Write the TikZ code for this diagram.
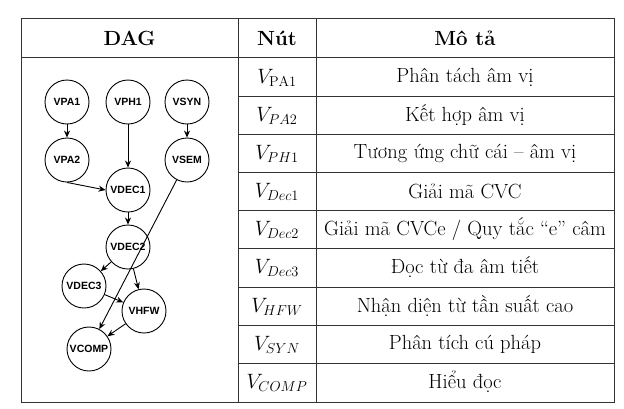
\documentclass[tikz,border=0pt]{standalone}
\usepackage{fontspec}
\newfontfamily\dagfont{Liberation Sans}
\usetikzlibrary{arrows.meta}
\tikzset{
  dn/.style={circle,draw,line width=0.9pt,minimum size=44pt,inner sep=0pt,font=\dagfont\bfseries\fontsize{10.5}{12}\selectfont},
  ar/.style={-{Stealth[length=7pt,width=6pt]},line width=0.9pt},
  grid/.style={line width=1pt,draw=black!80},
  cell/.style={font=\fontsize{20.5}{24}\selectfont,inner sep=0pt},
  hcell/.style={font=\bfseries\fontsize{20.5}{24}\selectfont,inner sep=0pt},
}
\begin{document}
\begin{tikzpicture}[x=1pt,y=-1pt]
\useasboundingbox (0,0) rectangle (624,408);
% table grid
\draw[grid] (21,18) rectangle (614,402);
\draw[grid] (238,18) -- (238,402);
\draw[grid] (316,18) -- (316,402);
\draw[grid] (21,57) -- (614,57);
\foreach \y in {96,134,172,210,248,287,325,363} \draw[grid] (238,\y) -- (614,\y);
% headers
\node[hcell] (hdag) at (129.5,38) {DAG};
\node[hcell] (hnut) at (277,38) {Nút};
\node[hcell] (hmota) at (465,38) {Mô tả};
% rows
\node[cell] (n1) at (277,78) {$V_{\mathrm{PA1}}$};
\node[cell] (d1) at (465,77) {Phân tách âm vị};
\node[cell] (n2) at (277,116) {$V_{PA2}$};
\node[cell] (d2) at (465,115) {Kết hợp âm vị};
\node[cell] (n3) at (277,154) {$V_{PH1}$};
\node[cell] (d3) at (465,153) {Tương ứng chữ cái -- âm vị};
\node[cell] (n4) at (277,192) {$V_{Dec1}$};
\node[cell] (d4) at (465,191) {Giải mã CVC};
\node[cell] (n5) at (277,230) {$V_{Dec2}$};
\node[cell] (d5) at (465,229) {Giải mã CVCe / Quy tắc “e” câm};
\node[cell] (n6) at (277,268) {$V_{Dec3}$};
\node[cell] (d6) at (465,267) {Đọc từ đa âm tiết};
\node[cell] (n7) at (277,307) {$V_{HFW}$};
\node[cell] (d7) at (465,306) {Nhận diện từ tần suất cao};
\node[cell] (n8) at (277,345) {$V_{SYN}$};
\node[cell] (d8) at (465,344) {Phân tích cú pháp};
\node[cell] (n9) at (277,383) {$V_{COMP}$};
\node[cell] (d9) at (465,382) {Hiểu đọc};
% DAG
\node[dn] (vpa1) at (67,102) {VPA1};
\node[dn] (vph1) at (128,102) {VPH1};
\node[dn] (vsyn) at (187,102) {VSYN};
\node[dn] (vpa2) at (67,160) {VPA2};
\node[dn] (vsem) at (187,160) {VSEM};
\node[dn] (vdec1) at (128,190) {VDEC1};
\node[dn] (vdec2) at (128,247) {VDEC2};
\node[dn] (vdec3) at (84,286) {VDEC3};
\node[dn] (vhfw) at (144,311) {VHFW};
\node[dn] (vcomp) at (89,349) {VCOMP};
\draw[ar] (vpa1) -- (vpa2);
\draw[ar] (vsyn) -- (vsem);
\draw[ar] (vph1) -- (vdec1);
\draw[ar] (vpa2.south) -- (vdec1.west);
\draw[ar] (vdec1) -- (vdec2);
\draw[ar] (vsem) -- (vcomp);
\draw[ar] (vdec2) -- (vdec3);
\draw[ar] (vdec2) -- (vhfw);
\draw[ar] (vdec3) -- (vhfw);
\draw[ar] (vhfw) -- (vcomp);
\end{tikzpicture}
\end{document}
